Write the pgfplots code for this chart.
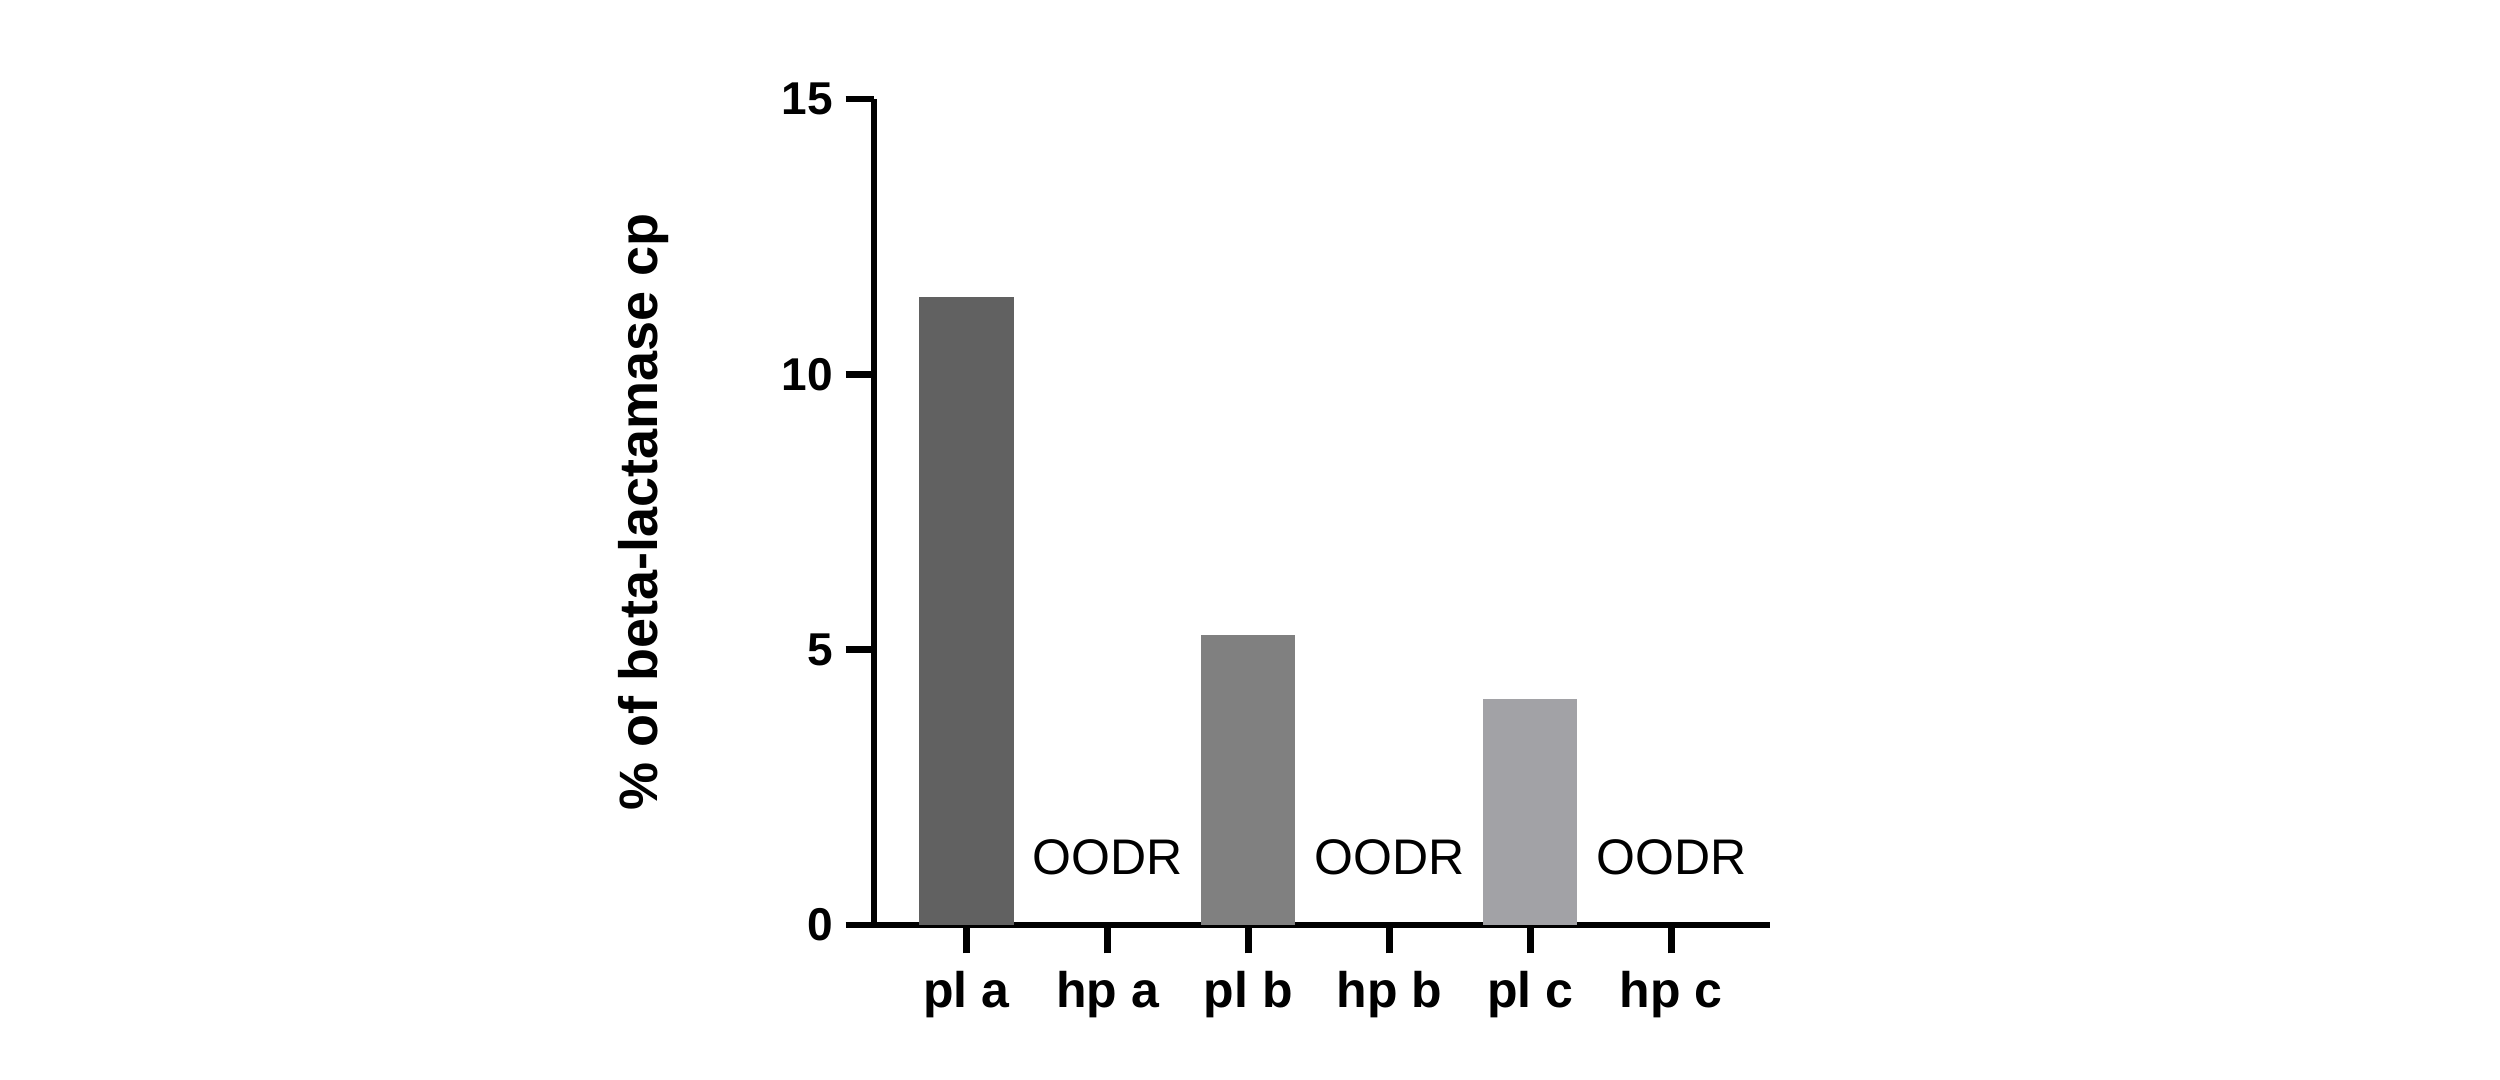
\documentclass[border=0pt]{standalone}
\usepackage{pgfplots}
\pgfplotsset{compat=1.18}
\usepackage{fontspec}
\setmainfont{Liberation Sans}

\definecolor{barA}{HTML}{616161}
\definecolor{barB}{HTML}{808080}
\definecolor{barC}{HTML}{A2A2A6}

\begin{document}
\begin{tikzpicture}
  \path[use as bounding box] (0,0) rectangle (500pt,216pt);
  \begin{axis}[
    at={(174.8pt,31pt)}, anchor=south west,
    scale only axis,
    width=179.2pt, height=165.2pt,
    ybar, bar width=0.667, bar shift=0pt,
    xmin=-0.656, xmax=5.70,
    ymin=0, ymax=15,
    ytick={0,5,10,15},
    xtick={0,1,2,3,4,5},
    xticklabels={pl a, hp a, pl b, hp b, pl c, hp c},
    axis x line=bottom, axis y line=left,
    axis line style={-, line width=1.3pt},
    tick style={line width=1.3pt, black},
    tick align=outside, major tick length=5.7pt,
    /pgf/number format/assume math mode=true,
    xticklabel style={font=\bfseries\fontsize{10}{12}\selectfont},
    yticklabel style={font=\bfseries\fontsize{9.2}{11}\selectfont, xshift=1pt},
    ylabel={\% of beta-lactamase cp},
    ylabel style={font=\bfseries\fontsize{10.8}{13}\selectfont,
      at={(axis description cs:-0.257,0.5)}, anchor=center},
    clip=false,
  ]
    \addplot[fill=barA, draw=none] coordinates {(0,11.41)};
    \addplot[fill=barB, draw=none] coordinates {(2,5.27)};
    \addplot[fill=barC, draw=none] coordinates {(4,4.11)};
    \addplot[draw=none, fill=none,
      nodes near coords={OODR},
      every node near coord/.append style={anchor=base, yshift=10pt,
        font=\fontsize{10}{12}\selectfont, text=black}]
      coordinates {(1,0) (3,0) (5,0)};
  \end{axis}
\end{tikzpicture}
\end{document}
